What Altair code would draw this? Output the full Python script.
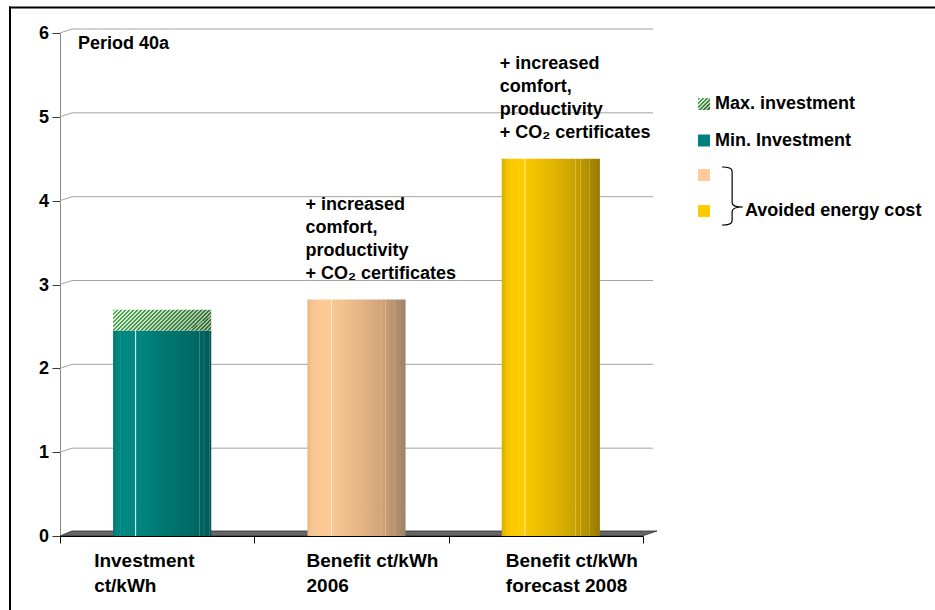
import altair as alt
import pandas as pd

FONT = "Liberation Sans"

# ---- data -------------------------------------------------------------
categories = ["Investment", "Benefit 2006", "Benefit 2008"]
category_labels = [
    ["Investment", "ct/kWh"],
    ["Benefit ct/kWh", "2006"],
    ["Benefit ct/kWh", "forecast 2008"],
]
min_investment = 2.45
max_investment = 2.70
benefit_values = [2.82, 4.50]          # 2006, forecast 2008
note_lines = ["+ increased", "comfort,", "productivity", "+ CO\u2082 certificates"]
y_ticks = [0, 1, 2, 3, 4, 5, 6]
legend_labels = ["Max. investment", "Min. Investment", "", ""]
brace_label = "Avoided energy cost"
period_label = "Period 40a"

# ---- styling helpers ----------------------------------------------------
W, H = 583, 503
DEPTH_X, DEPTH_Y = 12, 4


def hgrad(stops):
    return alt.Gradient(
        gradient="linear", x1=0, y1=0, x2=1, y2=0,
        stops=[alt.GradientStop(offset=o, color=c) for o, c in stops],
    )


def hatch(n, x2, y2, dark=("#4fae4f", "#2f6f2f"), light=("#e6f4e6", "#9fb79f")):
    """Diagonal stripe fill built from a hard-edged linear gradient."""
    def mix(a, b, t):
        a = [int(a[i:i + 2], 16) for i in (1, 3, 5)]
        b = [int(b[i:i + 2], 16) for i in (1, 3, 5)]
        return "#" + "".join(f"{round(p + (q - p) * t):02x}" for p, q in zip(a, b))
    stops = []
    for i in range(n):
        t = i / max(n - 1, 1)
        g, w = mix(*dark, t), mix(*light, t)
        stops += [(i / n, g), ((i + 0.5) / n, g), ((i + 0.5) / n, w), ((i + 1) / n, w)]
    return alt.Gradient(
        gradient="linear", x1=0, y1=0, x2=x2, y2=y2,
        stops=[alt.GradientStop(offset=o, color=c) for o, c in stops],
    )


teal = hgrad([
    (0, "#00726c"), (0.03, "#00847e"), (0.065, "#00857f"), (0.07, "#3a9f9a"), (0.078, "#00867f"),
    (0.22, "#008a82"), (0.228, "#d6f0ee"), (0.24, "#008781"),
    (0.55, "#00766f"), (0.875, "#006762"), (0.88, "#2f8a85"), (0.89, "#00645f"),
    (0.92, "#00615c"), (0.925, "#2e8581"), (0.935, "#005f5a"),
    (0.975, "#005b56"), (0.98, "#2b7c78"), (0.99, "#005853"), (1, "#00514d"),
])
peach = hgrad([
    (0, "#e4b584"), (0.04, "#f6c591"), (0.1, "#fdca96"), (0.235, "#fdca96"),
    (0.24, "#ffffff"), (0.252, "#f8c893"),
    (0.5, "#e8b888"), (0.745, "#d1a57b"), (0.75, "#e2bd95"), (0.758, "#cfa37a"),
    (0.79, "#c89f77"), (0.795, "#dbb892"), (0.803, "#c59c75"),
    (0.885, "#b8926e"), (0.89, "#cdb090"), (0.898, "#b48f6c"), (1, "#9c8466"),
])
gold = hgrad([
    (0, "#d4ab00"), (0.04, "#efc200"), (0.1, "#fdca00"), (0.23, "#ffcc00"),
    (0.235, "#fff6c8"), (0.247, "#f8c700"),
    (0.5, "#e3b700"), (0.745, "#c9a200"), (0.75, "#dec060"), (0.758, "#c69f00"),
    (0.795, "#c09b00"), (0.8, "#d8bb5c"), (0.808, "#bd9900"),
    (0.885, "#b08e00"), (0.89, "#cfb560"), (0.898, "#ac8a00"), (1, "#977900"),
])
bar_fills = [teal, peach, gold]
legend_fills = [hatch(6, 1, 1), "#008080", "#ffcc99", "#ffcc00"]

# ---- shared scales -------------------------------------------------------
y_scale = alt.Scale(domain=[0, 6], nice=False, zero=True)
y_axis = alt.Axis(values=y_ticks, title=None, grid=False, labels=False,
                  tickSize=8, tickColor="#3a3a3a", domainColor="#8a8a8a")
x_enc = alt.X(
    "cat:N", sort=categories,
    scale=alt.Scale(domain=categories, paddingInner=0, paddingOuter=0),
    axis=alt.Axis(labels=False, title=None, grid=False, tickBand="extent",
                  tickSize=7, tickColor="black", domainColor="black", zindex=1),
)
one = pd.DataFrame({"k": [0]})

# ---- back wall grid (3D perspective) -------------------------------------
grid_df = pd.DataFrame({"v": y_ticks[1:]})
back_grid = alt.Chart(grid_df).mark_rule(color="#a3a3a3", yOffset=-DEPTH_Y).encode(
    y=alt.Y("v:Q", scale=y_scale, axis=y_axis), x=alt.value(DEPTH_X), x2=alt.value(W + 10),
)
side_grid = alt.Chart(grid_df).mark_rule(color="#a3a3a3", y2Offset=-DEPTH_Y).encode(
    y=alt.Y("v:Q", scale=y_scale, axis=y_axis), y2="v:Q", x=alt.value(0), x2=alt.value(DEPTH_X),
)

# value labels of the vertical axis
tick_df = pd.DataFrame({"v": y_ticks})
tick_labels = alt.Chart(tick_df).mark_text(
    align="right", baseline="middle", font=FONT, fontSize=18, fontWeight="bold",
    color="black", dx=-11, dy=1,
).encode(y=alt.Y("v:Q", scale=y_scale, axis=y_axis), x=alt.value(0), text="v:Q")

# floor slab drawn as a custom symbol
FLOOR = ("M -0.995 0.00833 L 0.945 0.00833 L 0.995 -0.00833 "
         "L -0.955 -0.00833 Z")
floor = alt.Chart(one).mark_point(
    shape=FLOOR, size=360000, filled=True, fill="#666666", stroke="#2e2e2e",
    strokeWidth=0.8, opacity=1,
).encode(x=alt.value(298.5), y=alt.value(H - 2.5))

# ---- bars ---------------------------------------------------------------
bar_df = pd.DataFrame({
    "cat": categories,
    "low": [0, 0, 0],
    "high": [min_investment] + benefit_values,
})
bars = []
for cat, fill in zip(categories, bar_fills):
    bars.append(
        alt.Chart(bar_df).transform_filter(alt.datum.cat == cat).mark_bar(
            fill=fill, xOffset=5, width=alt.RelativeBandSize(0.505), strokeWidth=0,
        ).encode(x=x_enc, y=alt.Y("high:Q", scale=y_scale, axis=y_axis), y2="low:Q")
    )

hatch_df = pd.DataFrame({"cat": [categories[0]], "low": [min_investment],
                         "high": [max_investment]})
max_bar = alt.Chart(hatch_df).mark_bar(
    fill=hatch(30, 1.161, 0.249), xOffset=5, width=alt.RelativeBandSize(0.505),
    strokeWidth=0,
).encode(x=x_enc, y=alt.Y("high:Q", scale=y_scale, axis=y_axis), y2="low:Q")

# ---- annotations above the benefit bars ----------------------------------
notes = [
    alt.Chart(one).mark_text(
        text=note_lines, align="left", baseline="alphabetic", dx=-46, dy=-90,
        lineHeight=23, font=FONT, fontSize=18, fontWeight="bold", color="black",
    ).encode(x=alt.datum(cat), y=alt.Y(datum=val, scale=y_scale, axis=y_axis))
    for cat, val in zip(categories[1:], benefit_values)
]

# ---- category labels -----------------------------------------------------
label_dx = [-63, -45, -40]
cat_labels = [
    alt.Chart(one).mark_text(
        text=lines, align="left", baseline="alphabetic", dx=dx, lineHeight=25,
        font=FONT, fontSize=19, fontWeight="bold", color="black",
    ).encode(x=alt.datum(cat), y=alt.value(H + 31))
    for cat, lines, dx in zip(categories, category_labels, label_dx)
]

period = alt.Chart(one).mark_text(
    text=period_label, align="left", baseline="middle", font=FONT, fontSize=18,
    fontWeight="bold", color="black",
).encode(x=alt.value(18), y=alt.value(11))

# ---- legend --------------------------------------------------------------
legend_y = [71, 107.5, 142, 178]
legend = []
for fill, label, ly in zip(legend_fills, legend_labels, legend_y):
    legend.append(alt.Chart(one).mark_square(size=144, fill=fill, opacity=1, strokeWidth=0)
                  .encode(x=alt.value(644), y=alt.value(ly)))
    if label:
        legend.append(alt.Chart(one).mark_text(
            text=label, align="left", baseline="middle", font=FONT, fontSize=18,
            fontWeight="bold", color="black",
        ).encode(x=alt.value(655), y=alt.value(ly)))

BRACE = ("M -0.38 -1 Q -0.03 -1 -0.03 -0.85 L -0.03 0.22 Q -0.03 0.38 0.34 0.38 "
         "Q -0.03 0.38 -0.03 0.54 L -0.03 0.85 Q -0.03 1 -0.38 1")
brace = alt.Chart(one).mark_point(
    shape=BRACE, size=3364, filled=False, stroke="black", strokeWidth=1.2, opacity=1,
).encode(x=alt.value(673), y=alt.value(163))
brace_text = alt.Chart(one).mark_text(
    text=brace_label, align="left", baseline="middle", font=FONT, fontSize=18,
    fontWeight="bold", color="black",
).encode(x=alt.value(685), y=alt.value(178))

# ---- outer frame ---------------------------------------------------------
frame_top = alt.Chart(one).mark_rule(color="black", strokeWidth=2).encode(
    x=alt.value(-51), x2=alt.value(900), y=alt.value(-25.5))
frame_left = alt.Chart(one).mark_rule(color="black", strokeWidth=2).encode(
    x=alt.value(-50), y=alt.value(-26.5), y2=alt.value(600))

chart = alt.layer(
    back_grid, side_grid, tick_labels, floor, *bars, max_bar, *notes, *cat_labels,
    period, *legend, brace, brace_text, frame_top, frame_left,
).properties(
    width=W, height=H,
    padding={"left": 60, "top": 33, "right": 292, "bottom": 74},
    autosize=alt.AutoSizeParams(type="none"),
    background="white",
).configure_view(stroke=None)

chart.save("out.html", embed_options={"renderer": "svg", "actions": False})
